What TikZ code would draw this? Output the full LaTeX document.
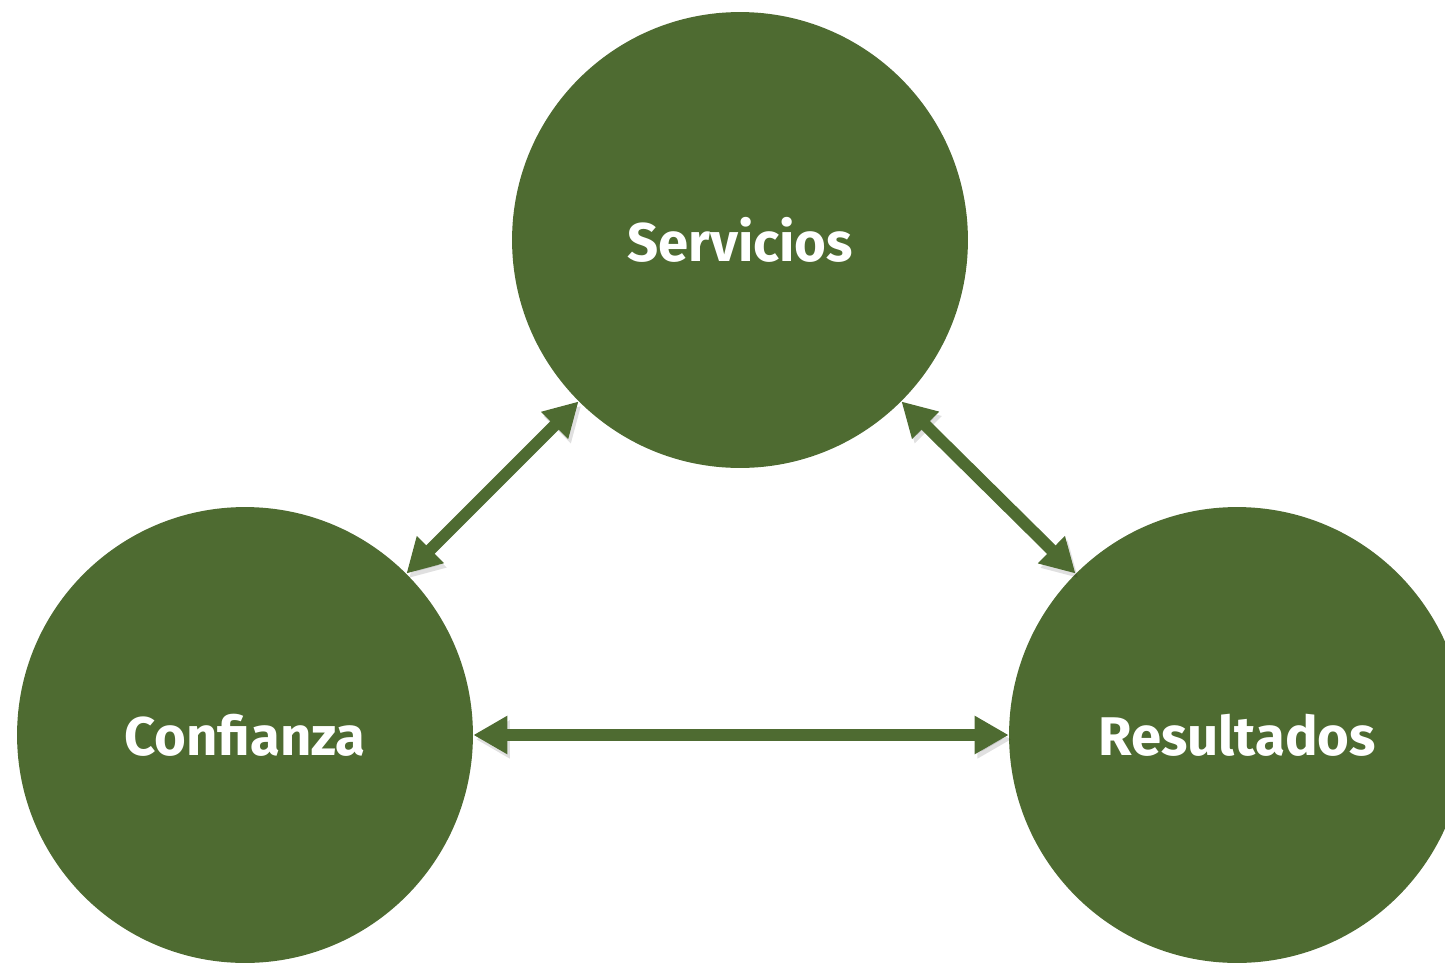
\documentclass[tikz,border=0pt]{standalone}
\usepackage{fontspec}
\setmainfont{Fira Sans}
\usetikzlibrary{arrows.meta,positioning}
\definecolor{leafgreen}{RGB}{78,107,49}

\begin{document}
\begin{tikzpicture}[
  x=0.02cm, y=-0.02cm,
  every node/.style={circle,fill=leafgreen,text=white,inner sep=0pt,minimum size=9.12cm,
    font=\fontsize{31}{37}\selectfont\bfseries},
  link/.style={{Triangle[length=0.68cm,width=0.72cm]}-{Triangle[length=0.68cm,width=0.72cm]},
    line width=0.24cm,draw=leafgreen,
    preaction={draw=black,opacity=0.12,transform canvas={xshift=1.5pt,yshift=-2.5pt}}},
  ]
  \useasboundingbox (0,0) rectangle (1445,964);
  \node (S) at (740,240) {Servicios};
  \node (C) at (245,735) {Confianza};
  \node (R) at (1237,735) {Resultados};

  \draw [link] (C.45) -- (S.225);
  \draw [link] (S.-45) -- (R.135);
  \draw [link] (C) -- (R);
\end{tikzpicture}
\end{document}
